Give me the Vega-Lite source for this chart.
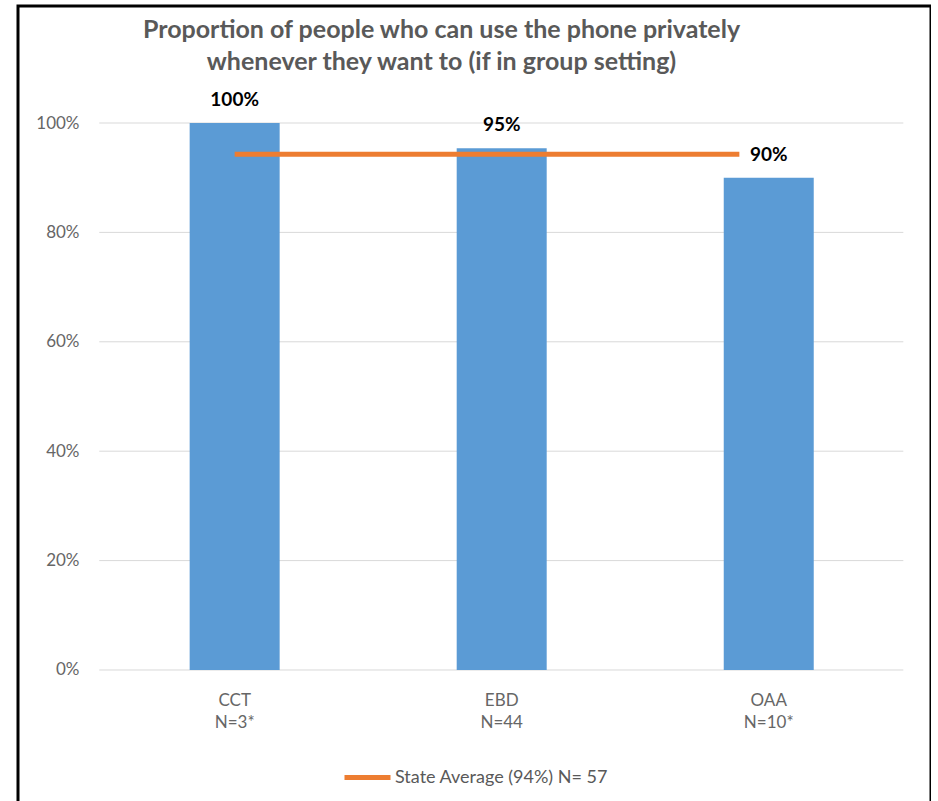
{
  "$schema": "https://vega.github.io/schema/vega-lite/v6.json",
  "autosize": "none",
  "width": 913,
  "height": 798,
  "padding": {"left": 18, "top": 6, "right": 0, "bottom": 0},
  "background": "white",
  "config": {
    "view": {"stroke": "black", "strokeWidth": 3},
    "font": "Lato"
  },
  "title": {
    "text": ["Proportion of people who can use the phone privately", "whenever they want to (if in group setting)"],
    "font": "Lato",
    "fontSize": 25,
    "fontWeight": "bold",
    "color": "#595959",
    "anchor": "middle",
    "frame": "group",
    "dx": -33,
    "offset": -81,
    "baseline": "middle",
    "lineHeight": 32
  },
  "datasets": {
    "groups": [
      {"group": "CCT", "n": "N=3*", "idx": 1, "pct": 1.0},
      {"group": "EBD", "n": "N=44", "idx": 2, "pct": 0.954},
      {"group": "OAA", "n": "N=10*", "idx": 3, "pct": 0.9}
    ],
    "avg": [
      {"idx": 1, "pct": 0.943, "series": "State Average (94%) N= 57"},
      {"idx": 2.89, "pct": 0.943, "series": "State Average (94%) N= 57"}
    ],
    "ticks": [{"v": 0}, {"v": 0.2}, {"v": 0.4}, {"v": 0.6}, {"v": 0.8}, {"v": 1.0}]
  },
  "layer": [
    {
      "data": {"name": "ticks"},
      "mark": {"type": "rule", "color": "#D9D9D9", "strokeWidth": 1},
      "encoding": {
        "y": {
          "field": "v", "type": "quantitative",
          "scale": {"domain": [-0.245, 1.2139], "nice": false, "zero": false},
          "axis": {
            "values": [0, 0.2, 0.4, 0.6, 0.8, 1.0],
            "format": ".0%",
            "offset": -61,
            "orient": "left",
            "labelPadding": 0,
            "ticks": false,
            "tickSize": 0,
            "domain": false,
            "grid": false,
            "title": null,
            "labelColor": "#666666",
            "labelFontSize": 17,
            "labelFont": "Lato"
          }
        },
        "x": {"datum": 0.493, "type": "quantitative", "scale": {"domain": [0.2074, 3.5889], "nice": false, "zero": false}, "axis": null},
        "x2": {"datum": 3.504}
      }
    },
    {
      "data": {"name": "groups"},
      "mark": {"type": "bar", "size": 90, "color": "#5B9BD5"},
      "encoding": {
        "x": {"field": "idx", "type": "quantitative", "scale": {"domain": [0.2074, 3.5889], "nice": false, "zero": false}, "axis": null},
        "y": {"field": "pct", "type": "quantitative", "scale": {"domain": [-0.245, 1.2139], "nice": false, "zero": false}},
        "y2": {"datum": 0}
      }
    },
    {
      "data": {"name": "avg"},
      "mark": {"type": "line", "strokeWidth": 5, "strokeCap": "butt"},
      "encoding": {
        "x": {"field": "idx", "type": "quantitative", "scale": {"domain": [0.2074, 3.5889], "nice": false, "zero": false}, "axis": null},
        "y": {"field": "pct", "type": "quantitative", "scale": {"domain": [-0.245, 1.2139], "nice": false, "zero": false}},
        "color": {
          "field": "series", "type": "nominal",
          "scale": {"range": ["#ED7D31"]},
          "legend": {
            "title": null,
            "orient": "none",
            "legendX": 324,
            "legendY": 746,
            "symbolType": "stroke",
            "symbolSize": 2116,
            "symbolStrokeWidth": 5,
            "labelFontSize": 18,
            "labelFont": "Lato",
            "labelColor": "#595959",
            "labelOffset": 2,
            "labelLimit": 0,
            "padding": 0
          }
        }
      }
    },
    {
      "data": {"name": "groups"},
      "mark": {"type": "text", "dy": -23, "fontSize": 19, "fontWeight": "bold", "color": "#000000", "baseline": "middle", "font": "Lato"},
      "encoding": {
        "x": {"field": "idx", "type": "quantitative", "scale": {"domain": [0.2074, 3.5889], "nice": false, "zero": false}, "axis": null},
        "y": {"field": "pct", "type": "quantitative", "scale": {"domain": [-0.245, 1.2139], "nice": false, "zero": false}},
        "text": {"field": "pct", "type": "quantitative", "format": ".0%"}
      }
    },
    {
      "data": {"name": "groups"},
      "mark": {"type": "text", "dy": 31, "fontSize": 17, "color": "#666666", "baseline": "middle", "font": "Lato"},
      "encoding": {
        "x": {"field": "idx", "type": "quantitative", "scale": {"domain": [0.2074, 3.5889], "nice": false, "zero": false}, "axis": null},
        "y": {"datum": 0, "type": "quantitative", "scale": {"domain": [-0.245, 1.2139], "nice": false, "zero": false}},
        "text": {"field": "group", "type": "nominal"}
      }
    },
    {
      "data": {"name": "groups"},
      "mark": {"type": "text", "dy": 53, "fontSize": 17, "color": "#666666", "baseline": "middle", "font": "Lato"},
      "encoding": {
        "x": {"field": "idx", "type": "quantitative", "scale": {"domain": [0.2074, 3.5889], "nice": false, "zero": false}, "axis": null},
        "y": {"datum": 0, "type": "quantitative", "scale": {"domain": [-0.245, 1.2139], "nice": false, "zero": false}},
        "text": {"field": "n", "type": "nominal"}
      }
    }
  ]
}
